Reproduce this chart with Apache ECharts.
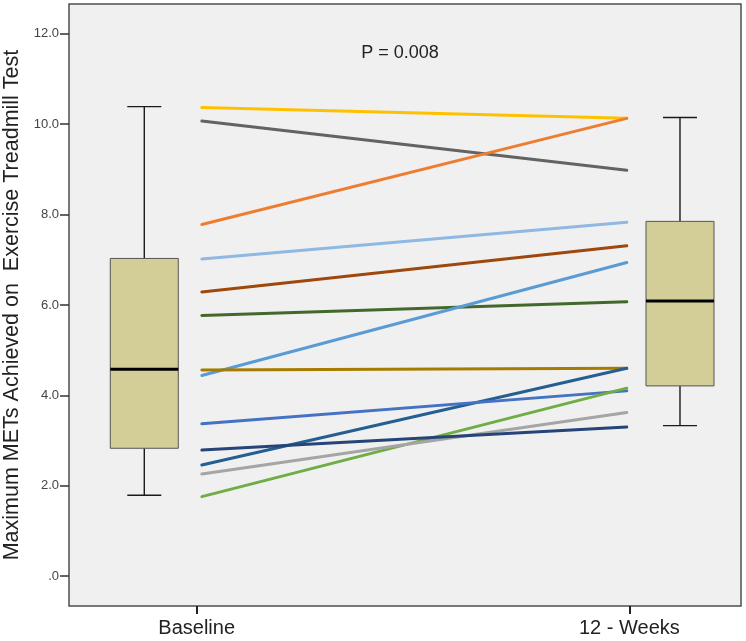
<!DOCTYPE html>
<html>
<head>
<meta charset="utf-8">
<style>
  html, body { margin: 0; padding: 0; background: #ffffff; }
  #chart { width: 746px; height: 641px; }
</style>
<script src="https://cdn.jsdelivr.net/npm/echarts@6/dist/echarts.min.js"></script>
</head>
<body>
<div id="chart"></div>
<script>
// ---- Data ----
const categories = ['Baseline', '12 - Weeks'];
const yTickValues = [0, 2, 4, 6, 8, 10, 12];
const pValueText = 'P = 0.008';
const yAxisTitle = 'Maximum METs Achieved on  Exercise Treadmill Test';

// Box plot statistics per category
const boxMin    = [1.79, 3.33];
const boxQ1     = [2.83, 4.21];
const boxMedian = [4.58, 6.09];
const boxQ3     = [7.03, 7.85];
const boxMax    = [10.39, 10.15];

// Individual participants: baseline and 12-week values
const baselineValues = [10.37, 10.07, 7.78, 7.02, 6.29, 5.77, 4.44, 4.56, 2.46, 3.37, 1.76, 2.26, 2.79];
const weekValues     = [10.13, 8.98, 10.13, 7.83, 7.31, 6.07, 6.94, 4.60, 4.60, 4.10, 4.16, 3.62, 3.30];
const lineColors = ['#FFC000', '#636363', '#ED7D31', '#8FB8E3', '#9E480E', '#43682B',
                    '#5B9BD5', '#A67C00', '#255E91', '#4472C4', '#70AD47', '#A5A5A5', '#264478'];

// ---- Layout constants ----
const FONT = 'Arial, "Liberation Sans", sans-serif';
const BOX_OFFSET = [-0.121, 0.117];   // box centre offset from category position (axis units)
const LINE_INSET = [0.012, -0.006];   // line end offsets from category position
const BOX_HALF_W = 34;
const CAP_HALF_W = 17;

const chart = echarts.init(document.getElementById('chart'), null, { renderer: 'canvas' });

const boxData = categories.map((c, i) => [i + 1 + BOX_OFFSET[i], boxMin[i], boxQ1[i], boxMedian[i], boxQ3[i], boxMax[i]]);

const lineSeries = baselineValues.map((b, i) => ({
  type: 'line',
  silent: true,
  symbol: 'none',
  animation: false,
  z: 3,
  lineStyle: { color: lineColors[i], width: 3, cap: 'round' },
  data: [[1 + LINE_INSET[0], b], [2 + LINE_INSET[1], weekValues[i]]]
}));

const option = {
  backgroundColor: '#ffffff',
  animation: false,
  textStyle: { fontFamily: FONT },
  graphic: [{
    type: 'text',
    x: 400, y: 53,
    style: {
      text: pValueText,
      fontSize: 18,
      fontFamily: FONT,
      fill: '#222',
      textAlign: 'center',
      textVerticalAlign: 'middle'
    }
  }],
  grid: {
    left: 69, right: 5, top: 4, bottom: 35,
    show: true,
    backgroundColor: '#f0f0f0',
    borderColor: '#4d4d4d',
    borderWidth: 1.5,
    containLabel: false,
    outerBoundsMode: 'none'
  },
  xAxis: {
    type: 'value',
    min: 0.705,
    max: 2.258,
    splitLine: { show: false },
    axisLine: { show: false, onZero: false },
    axisTick: { show: true, customValues: [1, 2], length: 8, lineStyle: { color: '#222', width: 2 } },
    axisLabel: {
      customValues: [1, 2],
      formatter: v => categories[Math.round(v) - 1] || '',
      fontSize: 20,
      color: '#222',
      margin: 12,
      fontFamily: FONT
    }
  },
  yAxis: {
    type: 'value',
    min: -0.66,
    max: 12.66,
    name: yAxisTitle,
    nameLocation: 'middle',
    nameGap: 43,
    nameTextStyle: { fontSize: 21.5, color: '#222', fontFamily: FONT },
    splitLine: { show: false },
    axisLine: { show: false, onZero: false },
    axisTick: { show: true, customValues: yTickValues, length: 9, lineStyle: { color: '#333', width: 1.5 } },
    axisLabel: {
      customValues: yTickValues,
      formatter: v => (v === 0 ? '.0' : v.toFixed(1)),
      fontSize: 13,
      color: '#444',
      margin: 10,
      fontFamily: FONT
    }
  },
  series: [{
    type: 'custom',
    silent: true,
    z: 2,
    encode: { x: 0, y: [1, 2, 3, 4, 5] },
    data: boxData,
    renderItem: function (params, api) {
      const x = api.value(0);
      const pMin = api.coord([x, api.value(1)]);
      const pQ1 = api.coord([x, api.value(2)]);
      const pMed = api.coord([x, api.value(3)]);
      const pQ3 = api.coord([x, api.value(4)]);
      const pMax = api.coord([x, api.value(5)]);
      const cx = pMin[0];
      const whisker = { stroke: '#1a1a1a', lineWidth: 1.4 };
      return {
        type: 'group',
        children: [
          { type: 'line', shape: { x1: cx, y1: pMax[1], x2: cx, y2: pQ3[1] }, style: whisker },
          { type: 'line', shape: { x1: cx, y1: pMin[1], x2: cx, y2: pQ1[1] }, style: whisker },
          { type: 'line', shape: { x1: cx - CAP_HALF_W, y1: pMax[1], x2: cx + CAP_HALF_W, y2: pMax[1] }, style: whisker },
          { type: 'line', shape: { x1: cx - CAP_HALF_W, y1: pMin[1], x2: cx + CAP_HALF_W, y2: pMin[1] }, style: whisker },
          { type: 'rect', shape: { x: cx - BOX_HALF_W, y: pQ3[1], width: 2 * BOX_HALF_W, height: pQ1[1] - pQ3[1] },
            style: { fill: '#D3CE98', stroke: '#555', lineWidth: 1 } },
          { type: 'line', shape: { x1: cx - BOX_HALF_W, y1: pMed[1], x2: cx + BOX_HALF_W, y2: pMed[1] },
            style: { stroke: '#000', lineWidth: 3 } }
        ]
      };
    }
  }].concat(lineSeries)
};

chart.setOption(option);
</script>
</body>
</html>
